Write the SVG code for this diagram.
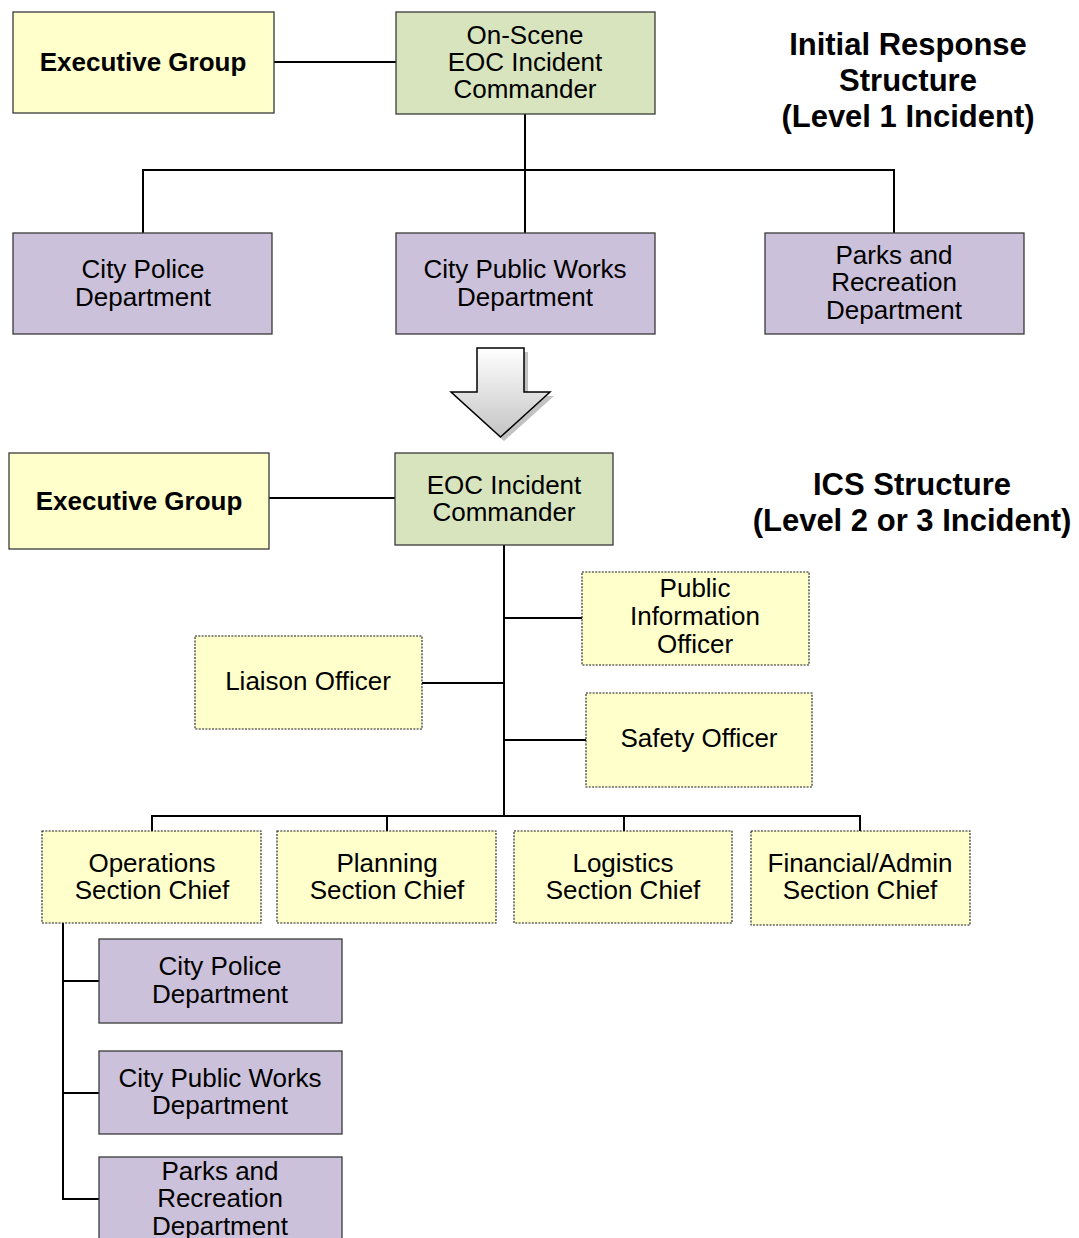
<svg xmlns="http://www.w3.org/2000/svg" width="1079" height="1238" viewBox="0 0 1079 1238">
<style>
text{font-family:"Liberation Sans",Arial,sans-serif;font-size:26px;fill:#000;text-anchor:middle}
.b{font-weight:bold}
.t{font-weight:bold;font-size:31px}
.y{fill:#FFFFCC;stroke:#3a3a3a;stroke-width:1.3}
.g{fill:#D7E4BD;stroke:#3a3a3a;stroke-width:1.3}
.p{fill:#CCC1DA;stroke:#3a3a3a;stroke-width:1.3}
.d{fill:#FFFFCC;stroke:#1a1a1a;stroke-width:1.1;stroke-dasharray:2 1.3}
.c{fill:none;stroke:#000;stroke-width:2}
</style>
<defs>
<linearGradient id="ag" x1="0" y1="0" x2="0" y2="1">
<stop offset="0" stop-color="#ffffff"/>
<stop offset="1" stop-color="#c4c4c4"/>
</linearGradient>
</defs>
<rect width="1079" height="1238" fill="#fff"/>
<g id="connectors">
<path class="c" d="M274 62H396"/>
<path class="c" d="M525 114V233M143 233V170H894V233"/>
<path class="c" d="M269 498H395"/>
<path class="c" d="M504 545V816"/>
<path class="c" d="M504 618H582M422 683H504M504 740H586"/>
<path class="c" d="M152 831V816H860V831M387 816V831M624 816V831"/>
<path class="c" d="M63 923V1199H99M63 981H99M63 1093H99"/>
</g>
<g id="titles">
<text class="t" x="908" y="55">Initial Response</text>
<text class="t" x="908" y="91">Structure</text>
<text class="t" x="908" y="127">(Level 1 Incident)</text>
<text class="t" x="912" y="495">ICS Structure</text>
<text class="t" x="912" y="531">(Level 2 or 3 Incident)</text>
</g>
<g id="exec1"><rect class="y" x="13" y="12" width="261" height="101"/><text class="b" x="143" y="71">Executive Group</text></g>
<g id="onscene"><rect class="g" x="396" y="12" width="259" height="102"/><text x="525" y="44">On-Scene</text><text x="525" y="71">EOC Incident</text><text x="525" y="98">Commander</text></g>
<g id="police1"><rect class="p" x="13" y="233" width="259" height="101"/><text x="143" y="278">City Police</text><text x="143" y="306">Department</text></g>
<g id="works1"><rect class="p" x="396" y="233" width="259" height="101"/><text x="525" y="278">City Public Works</text><text x="525" y="306">Department</text></g>
<g id="parks1"><rect class="p" x="765" y="233" width="259" height="101"/><text x="894" y="264">Parks and</text><text x="894" y="291">Recreation</text><text x="894" y="319">Department</text></g>
<g id="arrow">
<path d="M481 352H528V396H554L504 441L454 396H481Z" fill="#9a9a9a" opacity="0.6"/>
<path d="M477 348H524V392H550L500.5 437L451 392H477Z" fill="url(#ag)" stroke="#000" stroke-width="1.5"/>
</g>
<g id="exec2"><rect class="y" x="9" y="453" width="260" height="96"/><text class="b" x="139" y="510">Executive Group</text></g>
<g id="eoc"><rect class="g" x="395" y="453" width="218" height="92"/><text x="504" y="494">EOC Incident</text><text x="504" y="521">Commander</text></g>
<g id="pio"><rect class="d" x="582" y="572" width="227" height="93"/><text x="695" y="597">Public</text><text x="695" y="625">Information</text><text x="695" y="653">Officer</text></g>
<g id="liaison"><rect class="d" x="195" y="636" width="227" height="93"/><text x="308" y="690">Liaison Officer</text></g>
<g id="safety"><rect class="d" x="586" y="693" width="226" height="94"/><text x="699" y="747">Safety Officer</text></g>
<g id="ops"><rect class="d" x="42" y="831" width="219" height="92"/><text x="152" y="872">Operations</text><text x="152" y="899">Section Chief</text></g>
<g id="planning"><rect class="d" x="277" y="831" width="219" height="92"/><text x="387" y="872">Planning</text><text x="387" y="899">Section Chief</text></g>
<g id="logistics"><rect class="d" x="514" y="831" width="218" height="92"/><text x="623" y="872">Logistics</text><text x="623" y="899">Section Chief</text></g>
<g id="finance"><rect class="d" x="751" y="831" width="219" height="94"/><text x="860" y="872">Financial/Admin</text><text x="860" y="899">Section Chief</text></g>
<g id="police2"><rect class="p" x="99" y="939" width="243" height="84"/><text x="220" y="975">City Police</text><text x="220" y="1003">Department</text></g>
<g id="works2"><rect class="p" x="99" y="1051" width="243" height="83"/><text x="220" y="1087">City Public Works</text><text x="220" y="1114">Department</text></g>
<g id="parks2"><rect class="p" x="99" y="1157" width="243" height="90"/><text x="220" y="1180">Parks and</text><text x="220" y="1207">Recreation</text><text x="220" y="1235">Department</text></g>
</svg>
